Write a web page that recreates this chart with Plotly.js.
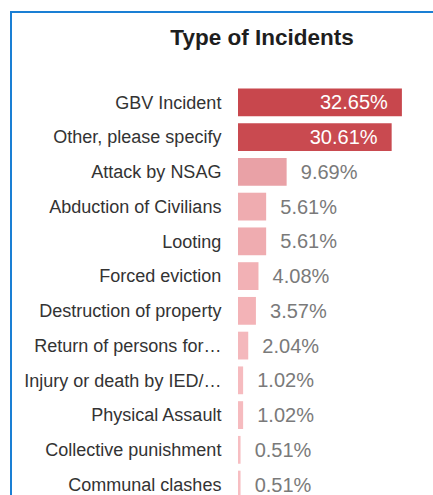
<!DOCTYPE html>
<html>
<head>
<meta charset="utf-8">
<script src="https://cdn.plot.ly/plotly-3.0.1.min.js"></script>
<style>
  html, body { margin: 0; padding: 0; background: #fff; overflow: hidden; }
  #frame { position: absolute; left: 10px; top: 11px; width: 430px; height: 490px;
           border-left: 2px solid #1a7fd4; border-top: 2px solid #1a7fd4; box-sizing: border-box; pointer-events: none; z-index: 5; }
  #chart { position: absolute; left: 0; top: 0; width: 433px; height: 495px; }
</style>
</head>
<body>
<div id="chart"></div>
<div id="frame"></div>
<script>
const categories = [
  "GBV Incident",
  "Other, please specify",
  "Attack by NSAG",
  "Abduction of Civilians",
  "Looting",
  "Forced eviction",
  "Destruction of property",
  "Return of persons for\u2026",
  "Injury or death by IED/\u2026",
  "Physical Assault",
  "Collective punishment",
  "Communal clashes"
];
const values = [32.65, 30.61, 9.69, 5.61, 5.61, 4.08, 3.57, 2.04, 1.02, 1.02, 0.51, 0.51];
const barColors = ["#c8474d", "#c94a50", "#e9a1a6", "#efacb0", "#efacb0", "#f2b1b5", "#f3b3b7", "#f4b8bc", "#f6bbbf", "#f6bbbf", "#f7bec2", "#f7bec2"];

const NB = "\u00a0";
const isInside = values.map(v => v > 20);
const labels = values.map((v, i) => isInside[i] ? v.toFixed(2) + "%" + NB.repeat(2) : NB.repeat(2) + v.toFixed(2) + "%");

const FONT = "Arial, 'Liberation Sans', sans-serif";

const trace = {
  type: "bar",
  orientation: "h",
  y: categories,
  x: values,
  text: labels,
  textposition: isInside.map(b => b ? "inside" : "outside"),
  insidetextanchor: "end",
  insidetextfont: { family: FONT, size: 20, color: "#ffffff" },
  outsidetextfont: { family: FONT, size: 20, color: "#7a7a7a" },
  textangle: 0,
  cliponaxis: false,
  constraintext: "none",
  marker: { color: barColors, line: { width: 0 } },
  hoverinfo: "none"
};

const layout = {
  width: 433,
  height: 495,
  margin: { l: 238, r: 0, t: 85, b: 0, pad: 0 },
  paper_bgcolor: "#ffffff",
  plot_bgcolor: "#ffffff",
  showlegend: false,
  bargap: 0.2,
  title: {
    text: "<b>Type of Incidents</b>",
    font: { family: FONT, size: 22.5, color: "#1e1e1e" },
    x: 262 / 433,
    xanchor: "center",
    xref: "container",
    y: 1 - 37 / 495,
    yanchor: "middle",
    yref: "container"
  },
  xaxis: {
    range: [0, 195 / 5.02],
    visible: false,
    fixedrange: true
  },
  yaxis: {
    type: "category",
    range: [11.3, -0.5],
    showgrid: false,
    zeroline: false,
    showline: false,
    ticks: "outside",
    ticklen: 12,
    tickcolor: "rgba(0,0,0,0)",
    tickfont: { family: FONT, size: 18, color: "#333333" },
    fixedrange: true
  }
};

Plotly.newPlot("chart", [trace], layout, { displayModeBar: false, staticPlot: true });
</script>
</body>
</html>
